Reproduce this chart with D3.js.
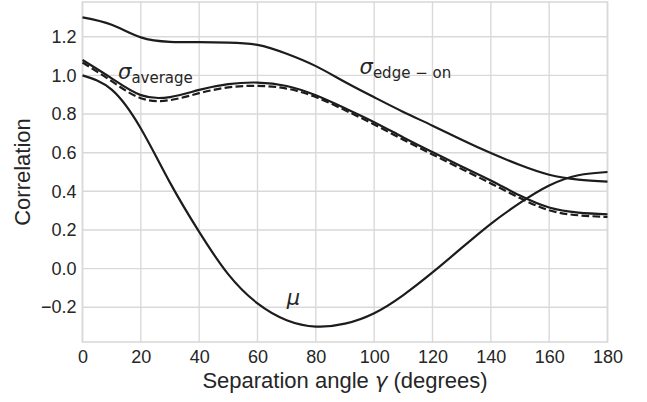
<!DOCTYPE html>
<html>
<head>
<meta charset="utf-8">
<script src="https://cdn.jsdelivr.net/npm/d3@7"></script>
<style>
  html, body { margin: 0; padding: 0; background: #fff; }
  svg { display: block; }
</style>
</head>
<body>
<svg id="chart" width="647" height="402"></svg>
<script>
// ---- data ----
const angles = [0, 10, 20, 30, 40, 50, 60, 70, 80, 90, 100, 110, 120, 130, 140, 150, 160, 170, 180];
const sigmaEdgeOn = [1.30, 1.262, 1.197, 1.174, 1.172, 1.170, 1.158, 1.112, 1.048, 0.966, 0.887, 0.811, 0.740, 0.667, 0.598, 0.536, 0.486, 0.461, 0.450];
const sigmaAverage = [1.08, 0.985, 0.898, 0.888, 0.925, 0.955, 0.963, 0.945, 0.897, 0.830, 0.758, 0.679, 0.603, 0.529, 0.456, 0.378, 0.316, 0.290, 0.281];
const sigmaDashed = [1.067, 0.970, 0.882, 0.872, 0.908, 0.938, 0.946, 0.932, 0.888, 0.820, 0.746, 0.667, 0.591, 0.516, 0.441, 0.365, 0.302, 0.276, 0.267];
const mu = [1.0, 0.926, 0.725, 0.445, 0.19, -0.03, -0.18, -0.267, -0.300, -0.285, -0.231, -0.137, -0.020, 0.107, 0.232, 0.340, 0.430, 0.483, 0.50];
const xTicks = [0, 20, 40, 60, 80, 100, 120, 140, 160, 180];
const yTicks = [-0.2, 0.0, 0.2, 0.4, 0.6, 0.8, 1.0, 1.2];
const xDomain = [0, 180];
const yDomain = [-0.38, 1.38];
const xLabelParts = ["Separation angle ", "γ", " (degrees)"];
const yLabel = "Correlation";
// annotation anchors in data units
const labelAverage = { x: 12.2, y: 0.98, sym: "σ", sub: "average" };
const labelEdge = { x: 95.0, y: 1.005, sym: "σ", sub: "edge − on" };
const labelMu = { x: 70.0, y: -0.19, sym: "μ" };

(function () {
// ---- layout ----
const svg = d3.select("#chart");
const pl = 82.5, pr = 607.5, pt = 2, pb = 342;
const x = d3.scaleLinear().domain(xDomain).range([pl, pr]);
const y = d3.scaleLinear().domain(yDomain).range([pb, pt]);

const textColor = "#262626";
const gridColor = "#d9d9d9";
const lineColor = "#1c1c1c";

// grid
const g = svg.append("g");
g.selectAll(".vgrid").data(xTicks).enter().append("line")
  .attr("x1", d => x(d)).attr("x2", d => x(d))
  .attr("y1", pt).attr("y2", pb)
  .attr("stroke", gridColor).attr("stroke-width", 1.4);
g.selectAll(".hgrid").data(yTicks).enter().append("line")
  .attr("x1", pl).attr("x2", pr)
  .attr("y1", d => y(d)).attr("y2", d => y(d))
  .attr("stroke", gridColor).attr("stroke-width", 1.4);
// frame
svg.append("rect").attr("x", pl).attr("y", pt)
  .attr("width", pr - pl).attr("height", pb - pt)
  .attr("fill", "none").attr("stroke", gridColor).attr("stroke-width", 1.6);

// axes (labels only, via d3 axes)
const xAxis = d3.axisBottom(x).tickValues(xTicks).tickSize(0).tickPadding(8).tickFormat(d3.format("d"));
const yAxis = d3.axisLeft(y).tickValues(yTicks).tickSize(0).tickPadding(6)
  .tickFormat(d => d3.format(".1f")(d).replace("-", "\u2212"));
const gx = svg.append("g").attr("transform", `translate(0,${pb})`).call(xAxis);
const gy = svg.append("g").attr("transform", `translate(${pl},0)`).call(yAxis);
[gx, gy].forEach(a => {
  a.select(".domain").remove();
  a.selectAll("text").attr("fill", textColor)
    .style("font-family", "'Liberation Sans', Arial, sans-serif")
    .style("font-size", "18px");
});

// axis titles
const xt = svg.append("text").attr("x", (pl + pr) / 2).attr("y", 388)
  .attr("text-anchor", "middle").attr("fill", textColor)
  .style("font-family", "'Liberation Sans', Arial, sans-serif").style("font-size", "22px");
xt.append("tspan").text(xLabelParts[0]);
xt.append("tspan").style("font-style", "italic").style("font-family", "'DejaVu Sans', sans-serif")
  .style("font-size", "21px").text(xLabelParts[1]);
xt.append("tspan").text(xLabelParts[2]);
svg.append("text").attr("transform", `translate(30,${(pt + pb) / 2}) rotate(-90)`)
  .attr("text-anchor", "middle").attr("fill", textColor)
  .style("font-family", "'Liberation Sans', Arial, sans-serif").style("font-size", "22px")
  .text(yLabel);

// lines
const line = d3.line().curve(d3.curveNatural)
  .x((d, i) => x(angles[i])).y(d => y(d));
const series = [
  { values: sigmaDashed, dash: "7.7,3.3" },
  { values: sigmaAverage, dash: null },
  { values: sigmaEdgeOn, dash: null },
  { values: mu, dash: null }
];
svg.selectAll(".series").data(series).enter().append("path")
  .attr("d", d => line(d.values))
  .attr("fill", "none").attr("stroke", lineColor).attr("stroke-width", 2.2)
  .attr("stroke-dasharray", d => d.dash);

// annotations
function addLabel(l) {
  const t = svg.append("text").attr("x", x(l.x)).attr("y", y(l.y)).attr("fill", textColor)
    .style("font-family", "'DejaVu Sans', sans-serif");
  t.append("tspan").style("font-style", "italic").style("font-size", "21px").text(l.sym);
  if (l.sub) {
    t.append("tspan").attr("dy", 4).style("font-size", "15px").text(l.sub);
  }
}
addLabel(labelAverage);
addLabel(labelEdge);
addLabel(labelMu);
})();
</script>
</body>
</html>
